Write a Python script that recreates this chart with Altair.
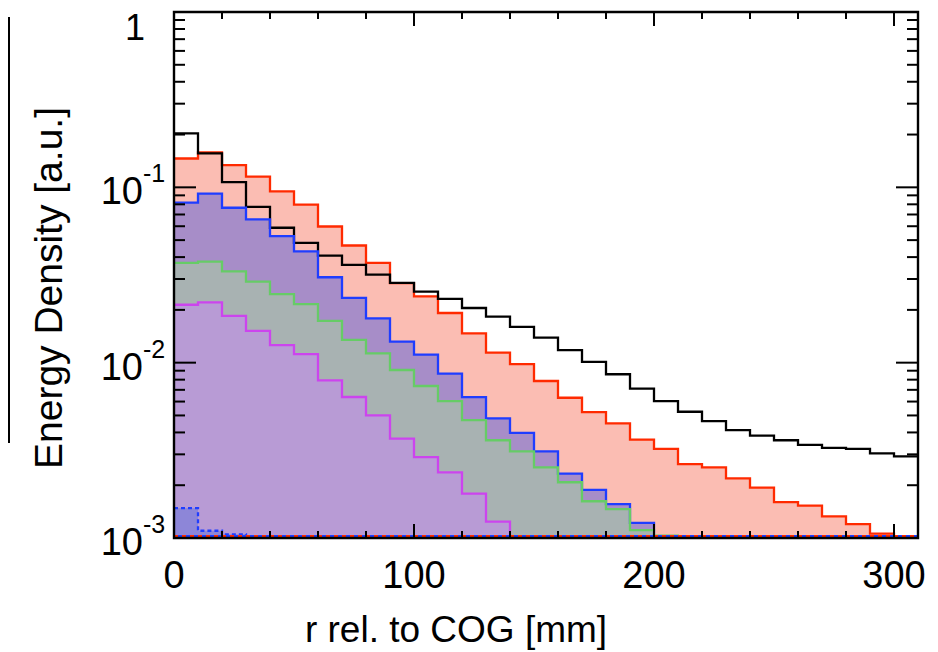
import altair as alt
import pandas as pd

# ---------------- data ----------------
BIN = 10
BASE = 0.001
black = [0.203, 0.156, 0.107, 0.0773, 0.0588, 0.0482, 0.0408, 0.0361, 0.0318, 0.0285,
         0.0254, 0.0231, 0.0205, 0.0183, 0.0160, 0.0139, 0.0118, 0.0101, 0.00859, 0.00711,
         0.00604, 0.00525, 0.00464, 0.00412, 0.00384, 0.00361, 0.00340, 0.00327, 0.00322,
         0.00304, 0.00292]
red = [0.146, 0.158, 0.134, 0.115, 0.0948, 0.0796, 0.0598, 0.0466, 0.0371, 0.0284,
       0.0239, 0.0192, 0.0147, 0.0114, 0.0098, 0.00786, 0.00631, 0.00522, 0.00450, 0.00364,
       0.00322, 0.00264, 0.00253, 0.00219, 0.00194, 0.00160, 0.00153, 0.00133, 0.00120,
       0.00106]
blue = [0.0817, 0.092, 0.0765, 0.0656, 0.0527, 0.0431, 0.0307, 0.0234, 0.0179, 0.0132,
        0.0111, 0.00867, 0.00636, 0.00481, 0.00398, 0.00312, 0.00233, 0.00188, 0.00156,
        0.00122]
green = [0.0371, 0.0377, 0.0332, 0.0290, 0.0246, 0.0216, 0.0173, 0.0135, 0.0113, 0.00908,
         0.00736, 0.00604, 0.00470, 0.00361, 0.00312, 0.00253, 0.00208, 0.00162, 0.00146,
         0.00111, 0.00103]
magenta = [0.0214, 0.0221, 0.0185, 0.0152, 0.0126, 0.0112, 0.00793, 0.00637, 0.00500,
           0.00369, 0.00289, 0.00237, 0.00179, 0.00124]
blue_dashed = [0.00148, 0.00110, 0.00105]

x_major = [0, 100, 200, 300]
x_minor = [20, 40, 60, 80, 120, 140, 160, 180, 220, 240, 260, 280]
y_decades = [0.1, 0.01, 0.001]
y_decade_base = ["10", "10", "10"]
y_decade_exp = ["-1", "-2", "-3"]
y_top = [1.0]
y_top_label = ["1"]
y_minor = [m * d for d in (0.001, 0.01, 0.1) for m in (2, 3, 4, 5, 6, 7, 8, 9)]

X_MAX = 310
W, H = 744, 526
FONT = "Liberation Sans"

xs = alt.Scale(domain=[0, X_MAX], nice=False, zero=False)
ys = alt.Scale(type="log", domain=[BASE, 1], nice=False)


def fill_df(vals):
    return pd.DataFrame({"lo": [i * BIN for i in range(len(vals))],
                         "hi": [(i + 1) * BIN for i in range(len(vals))],
                         "v": vals, "base": [BASE] * len(vals)})


def step_df(vals, close=True):
    xs_ = [i * BIN for i in range(len(vals))] + [len(vals) * BIN]
    vs_ = list(vals) + [BASE if close else vals[-1]]
    return pd.DataFrame({"x": xs_, "v": vs_})


def fill_layer(vals, color):
    return alt.Chart(fill_df(vals)).mark_rect(color=color, strokeWidth=0, clip=True).encode(
        x=alt.X("lo:Q", scale=xs, axis=None), x2="hi:Q",
        y=alt.Y("v:Q", scale=ys, axis=None), y2="base:Q")


def line_layer(vals, color, close=True, dash=None, width=2.3):
    kw = dict(color=color, strokeWidth=width, interpolate="step-after", clip=True)
    if dash:
        kw["strokeDash"] = dash
    return alt.Chart(step_df(vals, close)).mark_line(**kw).encode(
        x=alt.X("x:Q", scale=xs, axis=None),
        y=alt.Y("v:Q", scale=ys, axis=None))


layers = [
    fill_layer(red, "#fbbdb3"),
    fill_layer(blue, "#a78dc8"),
    fill_layer(green, "#a8b2b2"),
    fill_layer(magenta, "#b89bd5"),
    fill_layer(blue_dashed, "#8d86d8"),
    line_layer(red, "#ff2a00"),
    line_layer(black, "#000000", close=False),
    line_layer(blue, "#1f3dff"),
    line_layer(green, "#66cc66"),
    line_layer(magenta, "#cc44ee"),
    line_layer(blue_dashed, "#1f3dff", dash=[4, 3]),
]

# bottom dashed lines (series at / below the axis minimum)
bottom = pd.DataFrame({"a": [0], "b": [X_MAX], "y": [BASE]})
for col, off in (("#ff2a00", 0), ("#1f3dff", 4)):
    layers.append(alt.Chart(bottom).mark_rule(color=col, strokeWidth=2, strokeDash=[4, 4],
                                              strokeDashOffset=off, yOffset=-2).encode(
        x=alt.X("a:Q", scale=xs, axis=None), x2="b:Q",
        y=alt.Y("y:Q", scale=ys, axis=None)))

# ticks (inward, on all four sides)
xmaj = pd.DataFrame({"t": x_major})
xmin = pd.DataFrame({"t": x_minor})
ymaj = pd.DataFrame({"t": y_top + y_decades})
ymin = pd.DataFrame({"t": y_minor})


def xtick(df, y0, y1):
    return alt.Chart(df).mark_rule(color="black", strokeWidth=2).encode(
        x=alt.X("t:Q", scale=xs, axis=None), y=alt.value(y0), y2=alt.value(y1))


def ytick(df, x0, x1):
    return alt.Chart(df).mark_rule(color="black", strokeWidth=2).encode(
        y=alt.Y("t:Q", scale=ys, axis=None), x=alt.value(x0), x2=alt.value(x1))


layers += [
    xtick(xmaj, H, H - 14), xtick(xmin, H, H - 7),
    xtick(xmaj, 0, 14), xtick(xmin, 0, 7),
    ytick(ymaj, 0, 22), ytick(ymin, 0, 11),
    ytick(ymaj, W, W - 22), ytick(ymin, W, W - 11),
]

# frame
layers.append(alt.Chart(alt.Data(values=[{}])).mark_rect(
    filled=False, stroke="black", strokeWidth=2.4).encode(
    x=alt.value(0), x2=alt.value(W), y=alt.value(0), y2=alt.value(H)))

# neighbour panel edge visible at far left
layers.append(alt.Chart(alt.Data(values=[{}])).mark_rule(color="black", strokeWidth=2).encode(
    x=alt.value(-165), y=alt.value(5), y2=alt.value(431)))

# x tick labels
layers.append(alt.Chart(xmaj).mark_text(font=FONT, fontSize=38, baseline="middle",
                                        align="center").encode(
    x=alt.X("t:Q", scale=xs, axis=None), y=alt.value(H + 39), text="t:Q"))

# y tick labels with superscript exponents
ylab = pd.DataFrame({"t": y_decades, "b": y_decade_base, "e": y_decade_exp})
layers.append(alt.Chart(ylab).mark_text(font=FONT, fontSize=38, baseline="middle",
                                        align="right", dy=6).encode(
    y=alt.Y("t:Q", scale=ys, axis=None), x=alt.value(-31), text="b:N"))
layers.append(alt.Chart(ylab).mark_text(font=FONT, fontSize=25, baseline="middle",
                                        align="left", dy=-13).encode(
    y=alt.Y("t:Q", scale=ys, axis=None), x=alt.value(-31), text="e:N"))
ytop = pd.DataFrame({"t": y_top, "b": y_top_label})
layers.append(alt.Chart(ytop).mark_text(font=FONT, fontSize=36, baseline="top",
                                        align="right").encode(
    y=alt.Y("t:Q", scale=ys, axis=None), x=alt.value(-29), text="b:N"))

# axis titles
layers.append(alt.Chart(alt.Data(values=[{"s": "r rel. to COG [mm]"}])).mark_text(
    font=FONT, fontSize=37, baseline="middle", align="center").encode(
    x=alt.value(282), y=alt.value(H + 93), text="s:N"))
layers.append(alt.Chart(alt.Data(values=[{"s": "Energy Density [a.u.]"}])).mark_text(
    font=FONT, fontSize=39, baseline="middle", align="center", angle=270).encode(
    x=alt.value(-124), y=alt.value(276), text="s:N"))

chart = alt.layer(*layers).properties(
    width=W, height=H, autosize="none",
    padding={"left": 166, "top": 4, "right": 12, "bottom": 114},
    background="white",
).configure_view(strokeWidth=0)

chart.save("out.html", embed_options={"renderer": "svg", "actions": False})
